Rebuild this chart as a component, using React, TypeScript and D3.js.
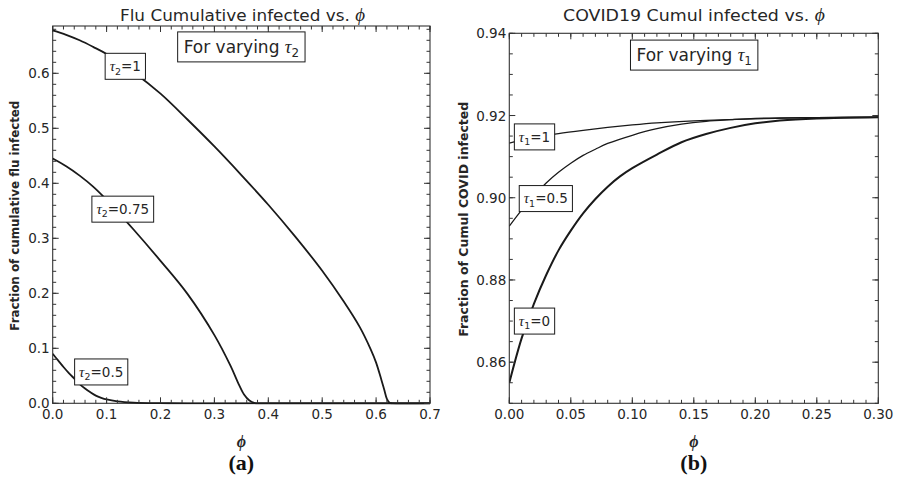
import React, { useLayoutEffect, useRef, useState } from "react";
import * as d3 from "d3";

// ---------- Data ----------
const fluPhi1 = [0, 0.025, 0.05, 0.075, 0.1, 0.15, 0.2, 0.25, 0.3, 0.35, 0.4, 0.45, 0.5, 0.54, 0.57, 0.59, 0.6, 0.61, 0.615, 0.62, 0.625, 0.63, 0.7];
const fluTau2_1 = [0.678, 0.67, 0.66, 0.648, 0.635, 0.602, 0.563, 0.516, 0.467, 0.415, 0.361, 0.303, 0.241, 0.185, 0.138, 0.098, 0.074, 0.042, 0.025, 0.008, 0.001, 0, 0];

const fluPhi075 = [0, 0.025, 0.05, 0.075, 0.1, 0.15, 0.2, 0.25, 0.3, 0.33, 0.345, 0.355, 0.365, 0.375, 0.385, 0.7];
const fluTau2_075 = [0.445, 0.431, 0.414, 0.394, 0.37, 0.316, 0.259, 0.199, 0.124, 0.068, 0.035, 0.016, 0.005, 0.0005, 0, 0];

const fluPhi05 = [0, 0.01, 0.02, 0.03, 0.04, 0.05, 0.06, 0.07, 0.08, 0.09, 0.1, 0.12, 0.15, 0.2, 0.25, 0.7];
const fluTau2_05 = [0.09, 0.078, 0.066, 0.055, 0.045, 0.035, 0.027, 0.02, 0.014, 0.01, 0.007, 0.0035, 0.0012, 0.0002, 0, 0];

const covPhi0 = [0, 0.01, 0.02, 0.03, 0.04, 0.05, 0.06, 0.07, 0.08, 0.09, 0.1, 0.12, 0.14, 0.16, 0.18, 0.2, 0.22, 0.25, 0.3];
const covTau1_0 = [0.855, 0.8658, 0.8742, 0.8812, 0.8872, 0.892, 0.8962, 0.8997, 0.9027, 0.9052, 0.9072, 0.9105, 0.9135, 0.9155, 0.917, 0.9181, 0.9188, 0.9193, 0.9196];

const covPhi05 = [0, 0.01, 0.02, 0.03, 0.04, 0.05, 0.06, 0.07, 0.08, 0.1, 0.12, 0.14, 0.16, 0.18, 0.2, 0.25, 0.3];
const covTau1_05 = [0.8931, 0.897, 0.9005, 0.9036, 0.9062, 0.9084, 0.9103, 0.9118, 0.9132, 0.9152, 0.9168, 0.9179, 0.9186, 0.919, 0.9193, 0.9195, 0.9196];

const covPhi1 = [0, 0.02, 0.04, 0.06, 0.08, 0.1, 0.12, 0.15, 0.2, 0.25, 0.3];
const covTau1_1 = [0.9133, 0.9146, 0.9156, 0.9164, 0.9171, 0.9177, 0.9182, 0.9187, 0.9192, 0.9195, 0.9196];

const fluXTicks = [0, 0.1, 0.2, 0.3, 0.4, 0.5, 0.6, 0.7];
const fluYTicks = [0, 0.1, 0.2, 0.3, 0.4, 0.5, 0.6];
const covXTicks = [0, 0.05, 0.1, 0.15, 0.2, 0.25, 0.3];
const covYTicks = [0.86, 0.88, 0.9, 0.92, 0.94];

const W = 897;
const H = 487;
const INK = "#1a1a1a";
const TXT = "#262626";
const SANS = "'DejaVu Sans', Verdana, sans-serif";
const SERIF = "'Liberation Serif', 'Times New Roman', serif";

type Lbl = { x: number; y: number; sub: string; rest: string; fs: number; prefix?: string };

function BoxLabel({ cx, cy, lbl }: { cx: number; cy: number; lbl: Lbl }) {
  const ref = useRef<SVGTextElement>(null);
  const [bb, setBb] = useState<{ w: number; h: number } | null>(null);
  useLayoutEffect(() => {
    if (ref.current) {
      const b = ref.current.getBBox();
      setBb({ w: b.width, h: b.height });
    }
  }, []);
  const padX = lbl.prefix ? 6 : 4.5;
  const boxH = lbl.prefix ? 30 : 26;
  const w = bb ? bb.w + padX * 2 : 0;
  return (
    <g>
      {bb && (
        <rect x={cx - w / 2} y={cy - boxH / 2} width={w} height={boxH} fill="white" stroke={INK} strokeWidth={1} />
      )}
      <text
        ref={ref}
        x={bb ? cx - bb.w / 2 : cx}
        y={cy + lbl.fs * 0.36}
        fontFamily={SANS}
        fontSize={lbl.fs}
        fill={TXT}
      >
        {lbl.prefix && <tspan>{lbl.prefix}</tspan>}
        <tspan fontFamily={SERIF} fontStyle="italic" fontSize={lbl.fs + 1.5}>τ</tspan>
        <tspan fontSize={lbl.fs * 0.7} dy={lbl.fs * 0.25}>{lbl.sub}</tspan>
        <tspan dy={-lbl.fs * 0.25}>{lbl.rest}</tspan>
      </text>
    </g>
  );
}

type Series = { xs: number[]; ys: number[]; w: number };

function Panel(props: {
  id: string;
  x0: number; x1: number; y0: number; y1: number;
  xDom: [number, number]; yDom: [number, number];
  xTicks: number[]; yTicks: number[];
  xMinorStep: number; yMinorStep: number;
  fmt: string;
  series: Series[];
  labels: Lbl[];
  title: string;
  titleX: number;
  titleLen: number;
  ylabel: string;
  ylabelX: number;
  ylabelLen: number;
  letter: string;
}) {
  const p = props;
  const x = d3.scaleLinear().domain(p.xDom).range([p.x0, p.x1]);
  const y = d3.scaleLinear().domain(p.yDom).range([p.y0, p.y1]);
  const f = d3.format(p.fmt);
  const minorX = d3.range(Math.round((p.xDom[1] - p.xDom[0]) / p.xMinorStep) + 1).map((i) => p.xDom[0] + i * p.xMinorStep);
  const nY = Math.floor((p.yDom[1] - p.yDom[0]) / p.yMinorStep + 1e-6);
  const minorY = d3.range(nY + 1).map((i) => p.yDom[0] + i * p.yMinorStep);
  const line = d3.line<[number, number]>().x((d) => x(d[0])).y((d) => y(d[1])).curve(d3.curveCatmullRom.alpha(0.5));
  const maj = 6, mn = 3.5;
  const cx = (p.x0 + p.x1) / 2;
  return (
    <g>
      <defs>
        <clipPath id={`clip-${p.id}`}>
          <rect x={p.x0} y={p.y1} width={p.x1 - p.x0} height={p.y0 - p.y1 + 1.2} />
        </clipPath>
      </defs>
      <rect x={p.x0} y={p.y1} width={p.x1 - p.x0} height={p.y0 - p.y1} fill="none" stroke="#333" strokeWidth={1.1} />
      <g clipPath={`url(#clip-${p.id})`}>
        {p.series.map((s, i) => (
          <path key={i} d={line(s.xs.map((v, j) => [v, s.ys[j]]) as [number, number][]) || ""} fill="none" stroke={INK} strokeWidth={s.w} strokeLinejoin="round" />
        ))}
      </g>
      {/* ticks */}
      <g stroke="#333" strokeWidth={1}>
        {minorX.map((v, i) => (
          <g key={"mx" + i}>
            <line x1={x(v)} x2={x(v)} y1={p.y0} y2={p.y0 - mn} />
            <line x1={x(v)} x2={x(v)} y1={p.y1} y2={p.y1 + mn} />
          </g>
        ))}
        {p.xTicks.map((v, i) => (
          <g key={"Mx" + i}>
            <line x1={x(v)} x2={x(v)} y1={p.y0} y2={p.y0 - maj} />
            <line x1={x(v)} x2={x(v)} y1={p.y1} y2={p.y1 + maj} />
          </g>
        ))}
        {minorY.map((v, i) => (
          <g key={"my" + i}>
            <line x1={p.x0} x2={p.x0 + mn} y1={y(v)} y2={y(v)} />
            <line x1={p.x1} x2={p.x1 - mn} y1={y(v)} y2={y(v)} />
          </g>
        ))}
        {p.yTicks.map((v, i) => (
          <g key={"My" + i}>
            <line x1={p.x0} x2={p.x0 + maj} y1={y(v)} y2={y(v)} />
            <line x1={p.x1} x2={p.x1 - maj} y1={y(v)} y2={y(v)} />
          </g>
        ))}
      </g>
      {/* tick labels */}
      <g fontFamily={SANS} fontSize={13.5} fill={TXT}>
        {p.xTicks.map((v, i) => (
          <text key={"tx" + i} x={x(v)} y={p.y0 + 16} textAnchor="middle">{f(v)}</text>
        ))}
        {p.yTicks.map((v, i) => (
          <text key={"ty" + i} x={p.x0 - 3} y={y(v) + 5} textAnchor="end">{f(v)}</text>
        ))}
      </g>
      {/* labels */}
      {p.labels.map((l, i) => (
        <BoxLabel key={i} cx={x(l.x)} cy={y(l.y)} lbl={l} />
      ))}
      <text
        x={p.titleX - p.titleLen / 2}
        y={21}
        textLength={p.titleLen}
        lengthAdjust="spacingAndGlyphs"
        fontFamily={SANS}
        fontSize={16}
        fill={TXT}
      >
        {p.title}
        <tspan fontFamily={SERIF} fontStyle="italic" fontSize={18}>ϕ</tspan>
      </text>
      <text
        transform={`translate(${p.ylabelX},${(p.y0 + p.y1) / 2 + 1}) rotate(-90)`}
        x={-p.ylabelLen / 2}
        textLength={p.ylabelLen}
        lengthAdjust="spacingAndGlyphs"
        fontFamily={SANS}
        fontSize={12}
        fontWeight="bold"
        fill={TXT}
      >
        {p.ylabel}
      </text>
      <text x={cx} y={447} textAnchor="middle" fontFamily={SERIF} fontStyle="italic" fontWeight="bold" fontSize={16} fill={TXT}>ϕ</text>
      <text x={cx} y={470} textAnchor="middle" fontFamily={SERIF} fontWeight="bold" fontSize={22} fill="#111">{p.letter}</text>
    </g>
  );
}

export default function App() {
  return (
    <svg width={W} height={H} style={{ position: "absolute", left: 0, top: 0, background: "white" }}>
      <rect width={W} height={H} fill="white" />
      <Panel
        id="flu"
        x0={52.7} x1={430} y0={403.3} y1={26}
        xDom={[0, 0.7]} yDom={[0, 0.686]}
        xTicks={fluXTicks} yTicks={fluYTicks}
        xMinorStep={0.02} yMinorStep={0.02}
        fmt=".1f"
        series={[
          { xs: fluPhi1, ys: fluTau2_1, w: 1.8 },
          { xs: fluPhi075, ys: fluTau2_075, w: 1.8 },
          { xs: fluPhi05, ys: fluTau2_05, w: 1.8 },
        ]}
        labels={[
          { x: 0.1347, y: 0.6127, sub: "2", rest: "=1", fs: 13.5 },
          { x: 0.13, y: 0.353, sub: "2", rest: "=0.75", fs: 13.5 },
          { x: 0.09, y: 0.057, sub: "2", rest: "=0.5", fs: 13.5 },
          { x: 0.35, y: 0.648, sub: "2", rest: "", fs: 17, prefix: "For varying " },
        ]}
        title="Flu Cumulative infected vs. "
        titleX={242.5}
        titleLen={245}
        ylabel="Fraction of cumulative flu infected"
        ylabelX={19}
        ylabelLen={230}
        letter="(a)"
      />
      <Panel
        id="cov"
        x0={509.3} x1={878.3} y0={403.3} y1={33.3}
        xDom={[0, 0.3]} yDom={[0.85, 0.94]}
        xTicks={covXTicks} yTicks={covYTicks}
        xMinorStep={0.01} yMinorStep={0.005}
        fmt=".2f"
        series={[
          { xs: covPhi0, ys: covTau1_0, w: 2 },
          { xs: covPhi05, ys: covTau1_05, w: 1.3 },
          { xs: covPhi1, ys: covTau1_1, w: 1.3 },
        ]}
        labels={[
          { x: 0.0205, y: 0.9148, sub: "1", rest: "=1", fs: 13.5 },
          { x: 0.0297, y: 0.8998, sub: "1", rest: "=0.5", fs: 13.5 },
          { x: 0.0205, y: 0.87, sub: "1", rest: "=0", fs: 13.5 },
          { x: 0.1503, y: 0.9347, sub: "1", rest: "", fs: 17, prefix: "For varying " },
        ]}
        title="COVID19 Cumul infected vs. "
        titleX={694}
        titleLen={262}
        ylabel="Fraction of Cumul COVID infected"
        ylabelX={468}
        ylabelLen={235}
        letter="(b)"
      />
    </svg>
  );
}
